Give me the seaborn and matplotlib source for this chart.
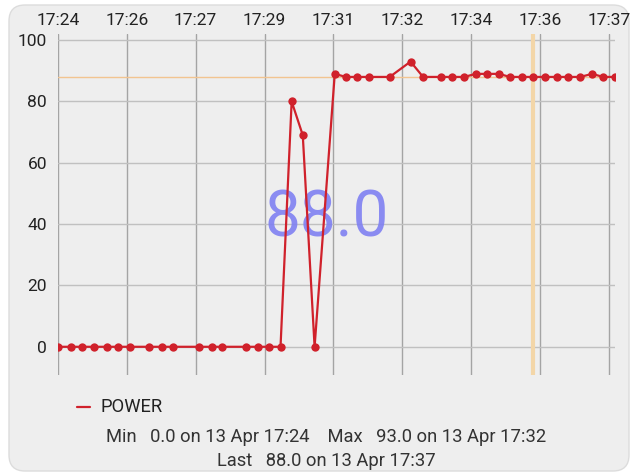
import pandas as pd
import numpy as np
import matplotlib
matplotlib.use("Agg")
import matplotlib.pyplot as plt
import matplotlib.dates as mdates
from matplotlib.patches import FancyBboxPatch
from matplotlib.transforms import IdentityTransform
import seaborn as sns

# readings of POWER, 13 Apr
times = ["17:24:31", "17:24:49", "17:25:06", "17:25:23", "17:25:41", "17:25:58",
         "17:26:15", "17:26:42", "17:27:00", "17:27:16", "17:27:54", "17:28:12",
         "17:28:27", "17:29:01", "17:29:18", "17:29:34", "17:29:51", "17:30:07",
         "17:30:23", "17:30:40", "17:31:09", "17:31:25", "17:31:41", "17:31:58",
         "17:32:28", "17:32:58", "17:33:16", "17:33:42", "17:33:57", "17:34:15",
         "17:34:32", "17:34:48", "17:35:05", "17:35:21", "17:35:38", "17:35:54",
         "17:36:11", "17:36:29", "17:36:44", "17:37:02", "17:37:19", "17:37:35",
         "17:37:52"]
power = [0, 0, 0, 0, 0, 0,
         0, 0, 0, 0, 0, 0,
         0, 0, 0, 0, 0, 80,
         69, 0, 89, 88, 88, 88,
         88, 93, 88, 88, 88, 88,
         89, 89, 89, 88, 88, 88,
         88, 88, 88, 88, 89, 88,
         88]
cursor_time = "17:35:54"
last_value = 88.0
tick_step_s = 99
n_ticks = 9

df = pd.DataFrame({"time": pd.to_datetime(["2024-04-13 " + t for t in times]),
                   "POWER": power})

sns.set_style("white")
plt.rcParams["font.family"] = ["Roboto", "DejaVu Sans"]

W, H = 636, 476
fig = plt.figure(figsize=(W / 100, H / 100), dpi=100)
fig.patch.set_facecolor("white")

card = FancyBboxPatch((9, 5), 620, 466, boxstyle="round,pad=0,rounding_size=16",
                      transform=IdentityTransform(), facecolor="#eeeeee",
                      edgecolor="#dcdcdc", linewidth=1, zorder=0)
fig.add_artist(card)

ax = fig.add_axes([58 / W, 1 - 375 / H, (615 - 58) / W, (375 - 34) / H])
ax.set_facecolor("none")
for s in ax.spines.values():
    s.set_visible(False)

t0 = df["time"].iloc[0]
ticks = [t0 + pd.Timedelta(seconds=tick_step_s * k) for k in range(n_ticks)]
for t in ticks:
    ax.axvline(t, color="#a4a4a4", lw=1, zorder=1)
for v in range(0, 101, 20):
    ax.axhline(v, color="#c0c0c0", lw=1, zorder=1)

ax.axhline(last_value, color="#f2c490", lw=1, zorder=2)
ax.axvline(pd.Timestamp("2024-04-13 " + cursor_time), color="#f3d6a8", lw=3, zorder=2)

ax.text(0.482, 0.46, f"{last_value:.1f}", transform=ax.transAxes, ha="center",
        va="center", fontsize=46, color="#7f80f2", alpha=0.9, zorder=2)

sns.lineplot(data=df, x="time", y="POWER", ax=ax, color="#d0212b", lw=1.6,
             marker="o", markersize=6, markeredgewidth=0, label="POWER", zorder=3,
             legend=False)

ax.set_xlim(df["time"].iloc[0], df["time"].iloc[-1])
ax.set_ylim(-9.2, 102)
ax.set_xticks(ticks)
ax.xaxis.set_major_formatter(mdates.DateFormatter("%H:%M"))
ax.xaxis.tick_top()
ax.set_yticks(range(0, 101, 20))
ax.tick_params(axis="both", length=0, labelsize=12.5, colors="#222222")
ax.tick_params(axis="x", pad=4)
ax.tick_params(axis="y", pad=8)
ax.set_xlabel("")
ax.set_ylabel("")

# legend and summary
fig.add_artist(plt.Line2D([77 / W, 90 / W], [1 - 407 / H] * 2, color="#d0212b", lw=1.6))
fig.text(101 / W, 1 - 407 / H, "POWER", fontsize=13.2, color="#222222", va="center")
imax = int(np.argmax(power))
fig.text(326 / W, 1 - 437 / H,
         f"Min   {min(power):.1f} on 13 Apr {times[0][:5]}    "
         f"Max   {max(power):.1f} on 13 Apr {times[imax][:5]}",
         fontsize=13.2, color="#333333", ha="center", va="center")
fig.text(326 / W, 1 - 461 / H, f"Last   {power[-1]:.1f} on 13 Apr {times[-1][:5]}",
         fontsize=13.2, color="#333333", ha="center", va="center")

fig.savefig("out.png", dpi=100)
